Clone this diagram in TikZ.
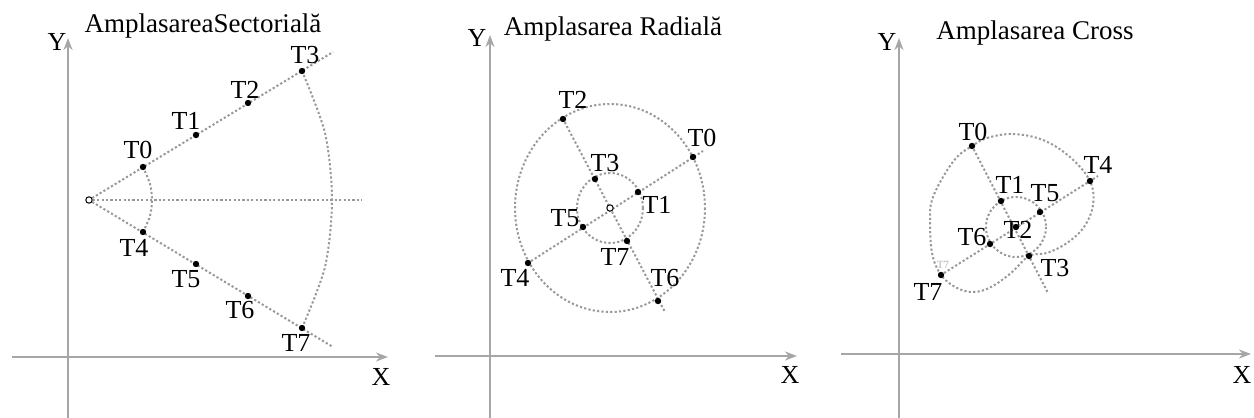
\documentclass[tikz,border=0pt]{standalone}
\usepackage{fontspec}
\setmainfont{Liberation Serif}
\usetikzlibrary{arrows.meta}
\pgfdeclarelayer{bg}
\pgfsetlayers{bg,main}
\begin{document}
\begin{tikzpicture}[x=0.5pt,y=-0.5pt,
  axis/.style={draw=gray!70, line width=1.4pt, -{Stealth[length=6pt,width=4.5pt]}},
  guide/.style={draw=gray!80, line width=1pt, dash pattern=on 1.1pt off 1.1pt},
  dot/.style={circle, fill=black, inner sep=0pt, minimum size=3.2pt},
  org/.style={circle, draw=black, fill=white, line width=0.5pt, inner sep=0pt, minimum size=3.2pt},
  lbl/.style={font=\fontsize{13}{13}\selectfont, inner sep=0pt},
  ttl/.style={font=\fontsize{13.5}{13.5}\selectfont, inner sep=0pt},
  ghost/.style={font=\fontsize{5.5}{5.5}\selectfont, text=gray!60, inner sep=0pt}]
\useasboundingbox (0,0) rectangle (1254,418);

% ================= Panel 1: Sectorial =================
\coordinate (ax1s) at (12,357); \coordinate (ax1e) at (388,357);
\coordinate (ay1s) at (68,418); \coordinate (ay1e) at (68,38);
\draw[axis] (ax1s) -- (ax1e);
\draw[axis] (ay1s) -- (ay1e);
\node[lbl] (y1) at (57,42) {Y};
\node[lbl] (x1) at (381,377) {X};
\node[ttl] (t1) at (203,26) {AmplasareaSectorială};

\node[org] (O1) at (89,200) {};
\node[dot] (a0) at (143,167) {};
\node[dot] (a1) at (196,135) {};
\node[dot] (a2) at (248,103) {};
\node[dot] (a3) at (302,71) {};
\node[dot] (a4) at (143,232) {};
\node[dot] (a5) at (196,264) {};
\node[dot] (a6) at (248,296) {};
\node[dot] (a7) at (302,328) {};
\coordinate (e1u) at (333,52);
\coordinate (e1d) at (333,347);
\coordinate (e1h) at (362,200);
\coordinate (s1a) at (150,184); \coordinate (s1b) at (152,200); \coordinate (s1c) at (150,216);
\coordinate (b1a) at (325,133); \coordinate (b1b) at (332,200); \coordinate (b1c) at (325,267);
\node[lbl] at (138,150) {T0};
\node[lbl] at (186,121) {T1};
\node[lbl] at (245,90) {T2};
\node[lbl] at (305,55) {T3};
\node[lbl] at (134,248) {T4};
\node[lbl] at (186,279) {T5};
\node[lbl] at (240,310) {T6};
\node[lbl] at (296,343) {T7};
\begin{pgfonlayer}{bg}
\draw[guide] (O1) -- (e1u);
\draw[guide] (O1) -- (e1d);
\draw[guide] (O1) -- (e1h);
\draw[guide] plot[smooth] coordinates {(a0) (s1a) (s1b) (s1c) (a4)};
\draw[guide] plot[smooth] coordinates {(a3) (b1a) (b1b) (b1c) (a7)};
\end{pgfonlayer}

% ================= Panel 2: Radial =================
\coordinate (ax2s) at (435,356); \coordinate (ax2e) at (797,356);
\coordinate (ay2s) at (490,418); \coordinate (ay2e) at (490,35);
\draw[axis] (ax2s) -- (ax2e);
\draw[axis] (ay2s) -- (ay2e);
\node[lbl] (y2) at (477,38) {Y};
\node[lbl] (x2) at (790,375) {X};
\node[ttl] (t2) at (613,29) {Amplasarea Radială};

\node[org] (C2) at (610,208) {};
\node[dot] (r0) at (693,157) {};
\node[dot] (r1) at (638,192) {};
\node[dot] (r2) at (563,119) {};
\node[dot] (r3) at (595,179) {};
\node[dot] (r4) at (528,263) {};
\node[dot] (r5) at (583,227) {};
\node[dot] (r6) at (658,301) {};
\node[dot] (r7) at (627,241) {};
\coordinate (e2a) at (703,151);
\coordinate (e2b) at (665,312);
\node[lbl] at (573,100) {T2};
\node[lbl] at (702,138) {T0};
\node[lbl] at (605,163) {T3};
\node[lbl] at (657,205) {T1};
\node[lbl] at (565,218) {T5};
\node[lbl] at (615,257) {T7};
\node[lbl] at (515,278) {T4};
\node[lbl] at (665,278) {T6};
\begin{pgfonlayer}{bg}
\draw[guide] (r4) -- (e2a);
\draw[guide] (r2) -- (e2b);
\draw[guide] (C2.center) ellipse [x radius=95, y radius=104];
\draw[guide] (C2.center) ellipse [x radius=33, y radius=35];
\end{pgfonlayer}

% ================= Panel 3: Cross =================
\coordinate (ax3s) at (841,354); \coordinate (ax3e) at (1251,354);
\coordinate (ay3s) at (899,418); \coordinate (ay3e) at (899,38);
\draw[axis] (ax3s) -- (ax3e);
\draw[axis] (ay3s) -- (ay3e);
\node[lbl] (y3) at (887,42) {Y};
\node[lbl] (x3) at (1242,375) {X};
\node[ttl] (t3) at (1035,33) {Amplasarea Cross};

\node[lbl] at (973,132) {T0};
\node[lbl] at (1098,165) {T4};
\node[lbl] at (1010,185) {T1};
\node[lbl] at (1045,193) {T5};
\node[lbl] at (1018,230) {T2};
\node[lbl] at (972,237) {T6};
\node[lbl] at (1055,268) {T3};
\node[lbl] at (928,292) {T7};
\node[ghost] at (943,265) {T7};
\node[dot] (c0) at (972,146) {};
\node[dot] (c1) at (1001,201) {};
\node[dot] (c2) at (1016,227) {};
\node[dot] (c3) at (1029,256) {};
\node[dot] (c4) at (1090,181) {};
\node[dot] (c5) at (1040,212) {};
\node[dot] (c6) at (990,244) {};
\node[dot] (c7) at (941,275) {};
\coordinate (e3a) at (1048,293);
\coordinate (e3b) at (1098,176);
\begin{pgfonlayer}{bg}
\draw[guide] (c0) -- (e3a);
\draw[guide] (c7) -- (e3b);
\draw[guide] (c2.center) circle [radius=30];
\draw[guide] plot[smooth cycle, tension=0.6] coordinates {
  (c0) (987,138) (1013,134) (1043,140) (1070,157) (c4)
  (1093,205) (1084,227) (1067,243) (1047,253) (c3)
  (1011,273) (991,287) (974,292) (957,288) (c7)
  (932,253) (930,220) (932,200) (943,177) (957,157)};
\end{pgfonlayer}
\end{tikzpicture}
\end{document}
